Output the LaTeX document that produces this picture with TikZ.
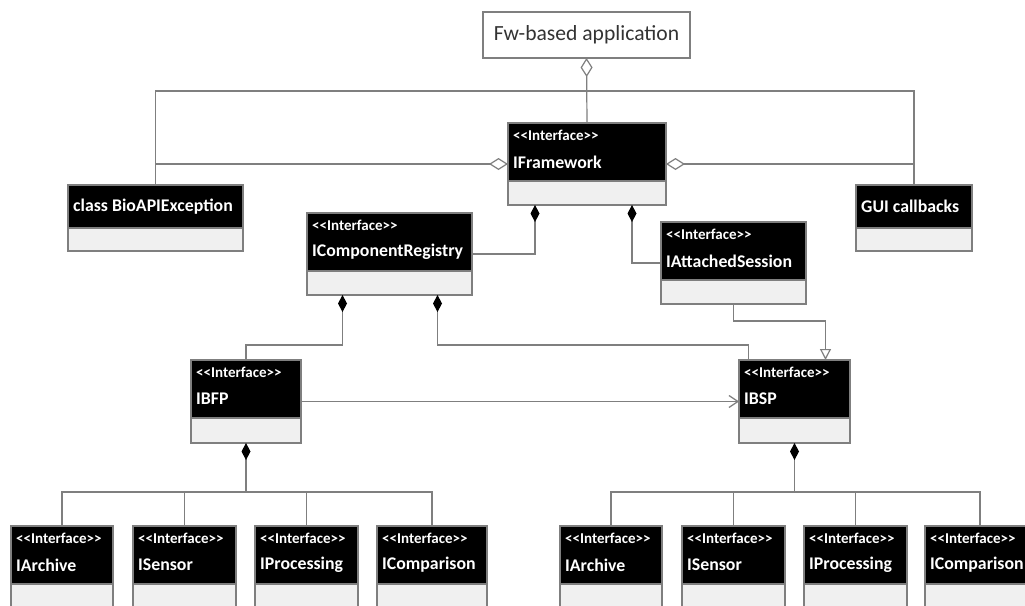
\documentclass[tikz,border=0pt]{standalone}
\usepackage{fontspec}
\setmainfont{Carlito}
\usetikzlibrary{arrows.meta,calc}
\definecolor{lgray}{HTML}{7F7F7F}
\definecolor{cfill}{HTML}{F0F0F0}
\definecolor{txtgray}{HTML}{333333}
\tikzset{
 conn/.style={draw=lgray, line width=1.2pt},
 agg/.style={conn, {Diamond[open,length=19pt,width=12pt,color=lgray]}-},
 comp/.style={conn, {Diamond[length=17pt,width=9pt,color=black]}-},
 gen/.style={conn, -{Triangle[open,length=11pt,width=11pt,color=lgray]}},
 assoc/.style={conn, -{Straight Barb[length=9pt,width=12pt,color=lgray]}},
 clsbox/.style={draw=lgray, fill=cfill, line width=1.2pt, inner sep=0pt, outer sep=0pt, rectangle, anchor=north west},
 hdrbox/.style={draw=lgray, fill=black, line width=1.2pt, inner sep=0pt, outer sep=0pt, rectangle, anchor=north west},
 stereo/.style={anchor=west, inner sep=0pt, text=white, font=\bfseries\fontsize{15}{17}\selectfont},
 ctitle/.style={anchor=west, inner sep=0pt, text=white, font=\bfseries\fontsize{17.8}{21}\selectfont},
}
\newcommand\stereotxt{<\kern0pt<Interface>\kern0pt>}
% #1 name, #2 x, #3 y, #4 width, #5 total height, #6 title
\newcommand\ifacecls[6]{%
 \node[clsbox, minimum width=#4, minimum height=#5] (#1) at (#2,#3) {};
 \node[hdrbox, minimum width=#4, minimum height=58] (#1h) at (#2,#3) {};
 \node[stereo] (#1s) at ([xshift=5,yshift=-12]#1.north west) {\stereotxt};
 \node[ctitle] (#1t) at ([xshift=5,yshift=-39]#1.north west) {#6};
}
% #1 name, #2 x, #3 y, #4 width, #5 title
\newcommand\plaincls[5]{%
 \node[clsbox, minimum width=#4, minimum height=66] (#1) at (#2,#3) {};
 \node[hdrbox, minimum width=#4, minimum height=43] (#1h) at (#2,#3) {};
 \node[ctitle] (#1t) at ([xshift=5,yshift=-21.5]#1.north west) {#5};
}
\begin{document}
\begin{tikzpicture}[x=1pt,y=-1pt]
\useasboundingbox (0,0) rectangle (1025,605);
\clip (0,0) rectangle (1025,605);
\fill[white] (0,0) rectangle (1025,605);

\node[draw=lgray, line width=1.2pt, fill=white, minimum width=207, minimum height=46, anchor=north west, inner sep=0pt, outer sep=0pt, text=txtgray, font=\fontsize{21.6}{24}\selectfont] (fw) at (483,12) {Fw-based application};

\ifacecls{IFw}{508}{123}{158}{82}{IFramework}
\plaincls{bio}{68}{185}{175}{class BioAPIException}
\plaincls{gui}{856}{185}{116}{GUI callbacks}
\ifacecls{ICR}{307}{213}{165}{82}{IComponentRegistry}
\ifacecls{IAS}{661}{222}{145}{82}{IAttachedSession}
\ifacecls{IBFP}{191}{360}{110}{83}{IBFP}
\ifacecls{IBSP}{739}{360}{111}{83}{IBSP}

\ifacecls{LA}{11}{526}{102}{110}{IArchive}
\ifacecls{LS}{133}{526}{103}{110}{ISensor}
\ifacecls{LP}{255}{526}{103}{110}{IProcessing}
\ifacecls{LC}{377}{526}{110}{110}{IComparison}
\ifacecls{RA}{560}{526}{102}{110}{IArchive}
\ifacecls{RS}{682}{526}{103}{110}{ISensor}
\ifacecls{RP}{804}{526}{103}{110}{IProcessing}
\ifacecls{RC}{925}{526}{110}{110}{IComparison}

\coordinate (tl) at (0,91);
\draw[agg] (fw.south) -- (IFw.north);
\draw[conn] (bio.north) -- (bio.north |- tl) -- (gui.north |- tl) -- (gui.north);
\draw[agg] (IFw.west) -- (bio.north |- IFw.west);
\draw[agg] (IFw.east) -- (gui.north |- IFw.east);

\draw[comp] ([xshift=-52]IFw.south) |- (ICR.east);
\draw[comp] ([xshift=45]IFw.south) |- (IAS.west);
\draw[gen] (IAS.south) -- ++(0,17) -| ([xshift=31]IBSP.north);
\draw[comp] ([xshift=-47]ICR.south) -- ++(0,50) -| (IBFP.north);
\draw[comp] ([xshift=48]ICR.south) -- ++(0,50) -| ([xshift=-46]IBSP.north);
\draw[assoc] (IBFP.east) -- (IBSP.west);

\draw[comp] (IBFP.south) -- ++(0,49) coordinate (jl);
\draw[conn] (LA.north) -- (LA.north |- jl) -- (LC.north |- jl) -- (LC.north);
\draw[conn] (LS.north) -- (LS.north |- jl);
\draw[conn] (LP.north) -- (LP.north |- jl);

\draw[comp] (IBSP.south) -- ++(0,49) coordinate (jr);
\draw[conn] (RA.north) -- (RA.north |- jr) -- (RC.north |- jr) -- (RC.north);
\draw[conn] (RS.north) -- (RS.north |- jr);
\draw[conn] (RP.north) -- (RP.north |- jr);
\end{tikzpicture}
\end{document}
